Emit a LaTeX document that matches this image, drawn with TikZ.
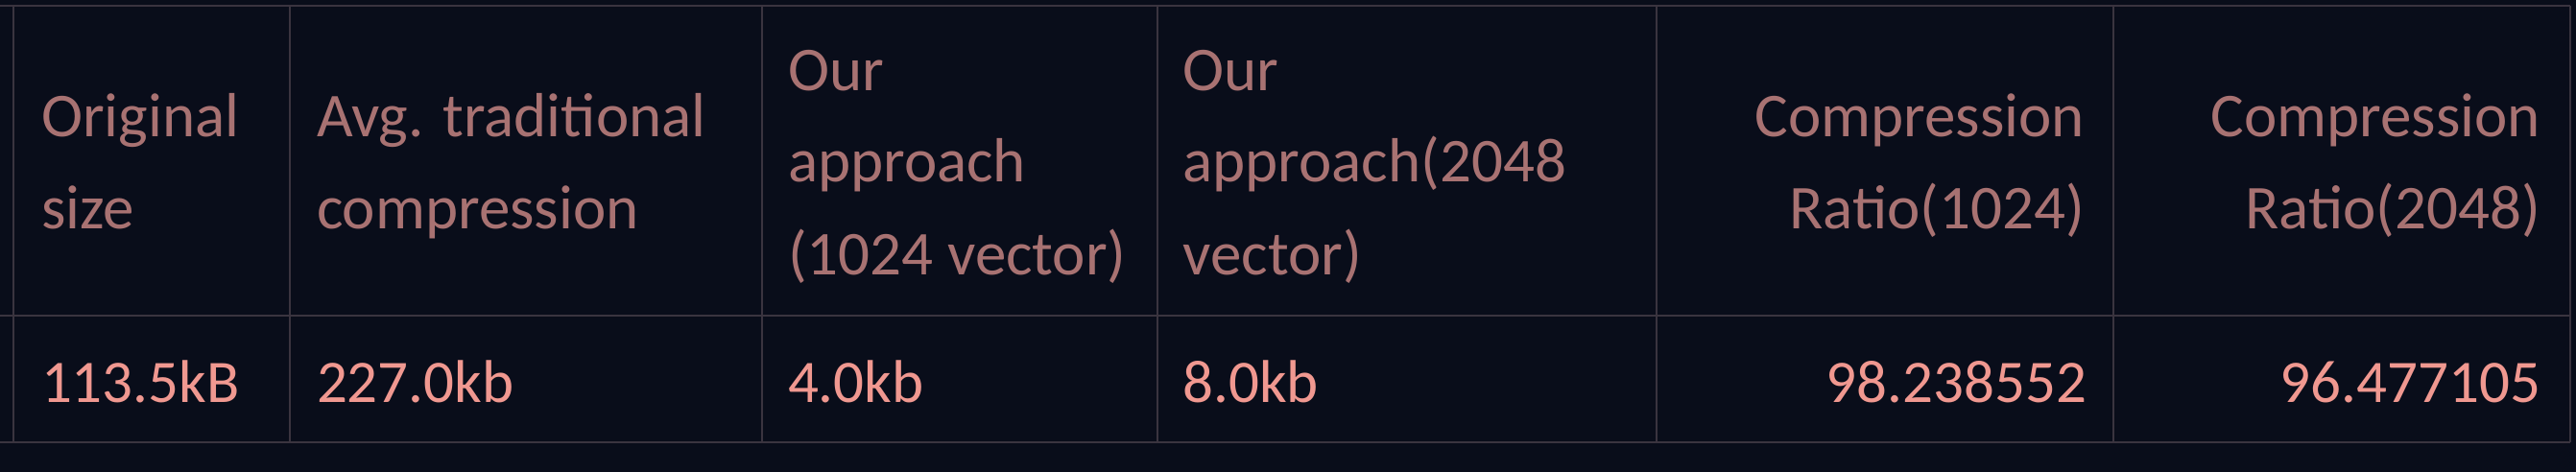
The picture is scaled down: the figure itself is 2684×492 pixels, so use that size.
\documentclass[tikz,border=0pt]{standalone}
\usepackage{fontspec}
\setmainfont{Carlito}
\definecolor{bgc}{HTML}{090D1A}
\definecolor{gridc}{HTML}{3A343F}
\definecolor{headc}{HTML}{A87272}
\definecolor{bodyc}{HTML}{F09890}
\tikzset{
  cell/.style={inner sep=0pt, outer sep=0pt},
  headl/.style={cell, text=headc, anchor=base west, font=\fontsize{32.5pt}{38pt}\selectfont},
  headr/.style={cell, text=headc, anchor=base east, font=\fontsize{32.5pt}{38pt}\selectfont},
  bodyl/.style={cell, text=bodyc, anchor=base west, font=\fontsize{31.5pt}{38pt}\selectfont},
  bodyr/.style={cell, text=bodyc, anchor=base east, font=\fontsize{31.5pt}{38pt}\selectfont},
  gridline/.style={draw=gridc, line width=1pt}
}
\begin{document}
\begin{tikzpicture}[x=0.5pt,y=-0.5pt]
\useasboundingbox (0,0) rectangle (2684,492);
\fill[bgc] (0,0) rectangle (2684,492);
% grid
\foreach \yy in {6,329,461} \draw[gridline] (0,\yy) -- (2678,\yy);
\foreach \xx in {13.5,301.5,793.5,1205.5,1725.5,2202,2678} \draw[gridline] (\xx,6) -- (\xx,461);
% header
\node[headl] (h1a) at (43,142.7) {Original};
\node[headl] (h1b) at (43,238.3) {size};
\node[headl] (h2a) at (330,142.7) {Avg. traditional};
\node[headl] (h2b) at (330,238.3) {compression};
\node[headl] (h3a) at (821,94.3) {Our};
\node[headl] (h3b) at (821,190) {approach};
\node[headl] (h3c) at (821,286) {(1024 vector)};
\node[headl] (h4a) at (1232.5,94.3) {Our};
\node[headl] (h4b) at (1232.5,190) {approach(2048};
\node[headl] (h4c) at (1232.5,286) {vector)};
\node[headr] (h5a) at (2172,142.7) {Compression};
\node[headr] (h5b) at (2172,238.3) {Ratio(1024)};
\node[headr] (h6a) at (2647,142.7) {Compression};
\node[headr] (h6b) at (2647,238.3) {Ratio(2048)};
% body
\node[bodyl] (b1) at (43,419.3) {113.5kB};
\node[bodyl] (b2) at (330,419.3) {227.0kb};
\node[bodyl] (b3) at (821,419.3) {4.0kb};
\node[bodyl] (b4) at (1232.5,419.3) {8.0kb};
\node[bodyr] (b5) at (2174,419.3) {98.238552};
\node[bodyr] (b6) at (2647,419.3) {96.477105};
\end{tikzpicture}
\end{document}
